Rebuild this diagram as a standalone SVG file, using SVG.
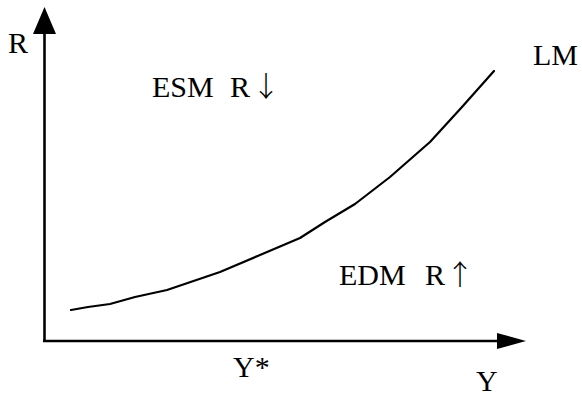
<svg xmlns="http://www.w3.org/2000/svg" width="582" height="396" viewBox="0 0 582 396">
<style>
.t{font-family:"Liberation Serif","Times New Roman",serif;font-size:30px;fill:#000}
.ar{font-family:"Noto Sans CJK SC","Noto Sans CJK JP",sans-serif;font-size:28px;font-weight:300}
.ax{stroke:#000;stroke-width:2.6;fill:none}
.cv{stroke:#000;stroke-width:2.2;fill:none;stroke-linejoin:round;stroke-linecap:round}
</style>
<rect width="582" height="396" fill="#fff"/>
<g id="axes">
<line class="ax" x1="44.5" y1="30" x2="44.5" y2="342"/>
<line class="ax" x1="43" y1="341" x2="500" y2="341"/>
<polygon points="44.5,7 33,34 56,34" fill="#000"/>
<polygon points="526,341 497,333 497,349" fill="#000"/>
</g>
<g id="lm-curve">
<polyline class="cv" points="71,310 88,307 110,304 135,297 167,290 220,272 260,255 300,238 325,222 355,204 390,177 430,142 462,107 494,71"/>
</g>
<g id="labels">
<text class="t" x="8" y="53">R</text>
<text class="t" x="533" y="65">LM</text>
<text class="t" x="152" y="97">ESM</text>
<text class="t" x="230" y="97">R<tspan class="ar" x="252">↓</tspan></text>
<text class="t" x="339" y="285">EDM</text>
<text class="t" x="425" y="285">R<tspan class="ar" x="446">↑</tspan></text>
<text class="t" x="233" y="377">Y*</text>
<text class="t" x="476" y="391">Y</text>
</g>
</svg>
